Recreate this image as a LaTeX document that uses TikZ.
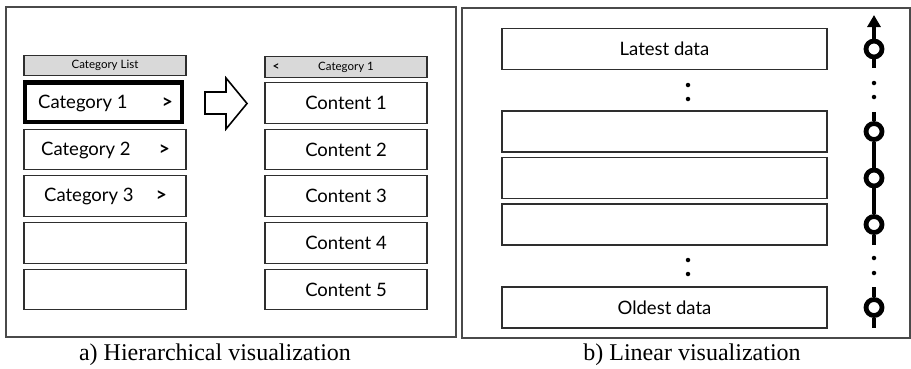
\documentclass[tikz,border=0pt]{standalone}
\usepackage{fontspec}
\setmainfont{Liberation Serif}
\newfontfamily\boxfont{Lato}
\usetikzlibrary{arrows.meta}
\definecolor{boxline}{HTML}{2E2E2E}
\definecolor{panelline}{HTML}{4A4A4A}
\definecolor{headfill}{HTML}{D9D9D9}
\tikzset{
  panel/.style={draw=panelline,line width=1.4pt},
  rowbox/.style={draw=boxline,line width=1.3pt,fill=white,minimum width=162pt,minimum height=40.5pt,inner sep=0pt,outer sep=0pt,font=\boxfont\fontsize{18.5}{21}\selectfont},
  selbox/.style={rowbox,draw=black,line width=4.8pt,minimum width=157pt,minimum height=39.5pt},
  headbox/.style={draw=boxline,line width=1.3pt,fill=headfill,minimum width=162pt,minimum height=20.5pt,inner sep=0pt,font=\boxfont\fontsize{11.5}{13}\selectfont},
  databox/.style={rowbox,minimum width=325pt,minimum height=41pt},
  lbl/.style={inner sep=0pt,font=\boxfont\fontsize{18.5}{21}\selectfont},
  glyph/.style={inner sep=0pt,font=\boxfont\bfseries\fontsize{19}{21}\selectfont},
  smalllbl/.style={inner sep=0pt,font=\boxfont\fontsize{11.5}{13}\selectfont},
  smallglyph/.style={inner sep=0pt,font=\boxfont\bfseries\fontsize{12}{13}\selectfont},
  tnode/.style={circle,draw=black,line width=4.8pt,fill=white,minimum size=16pt,inner sep=0pt},
  tline/.style={line width=4pt,draw=black},
  dotmark/.style={fill=black,circle,inner sep=0pt,minimum size=4.5pt},
  caption/.style={inner sep=0pt,font=\fontsize{24}{27}\selectfont},
}
\begin{document}
\begin{tikzpicture}[x=1pt,y=-1pt]
\useasboundingbox (0,0) rectangle (911,368);
% panels
\draw[panel] (6,7) rectangle (456,337);
\draw[panel] (462,8) rectangle (910,338);
% left column
\node[headbox] (lh) at (105,65.5) {Category List};
\node[selbox] (c1) at (103.5,102.25) {};
\node[rowbox] (c2) at (105,149.5) {};
\node[rowbox] (c3) at (105,196) {};
\node[rowbox] (c4) at (105,243) {};
\node[rowbox] (c5) at (105,289.5) {};
\node[lbl,anchor=west] (c1t) at (38,103) {Category 1};
\node[glyph] (c1g) at (167.5,103) {>};
\node[lbl,anchor=west] (c2t) at (41,150) {Category 2};
\node[glyph] (c2g) at (164.5,150) {>};
\node[lbl,anchor=west] (c3t) at (44,196.5) {Category 3};
\node[glyph] (c3g) at (161.5,196.5) {>};
% block arrow
\draw[line width=1.6pt,draw=black,fill=white] (205,92) -- (226,92) -- (226,78) -- (247,103.5) -- (226,129) -- (226,114) -- (205,114) -- cycle;
% right column
\node[headbox] (rh) at (346,67) {};
\node[smallglyph] (rhb) at (276,67) {<};
\node[smalllbl] (rht) at (346,67) {Category 1};
\node[rowbox] (k1) at (346,103) {Content 1};
\node[rowbox] (k2) at (346,149.5) {Content 2};
\node[rowbox] (k3) at (346,196) {Content 3};
\node[rowbox] (k4) at (346,243) {Content 4};
\node[rowbox] (k5) at (346,289.5) {Content 5};
% linear panel
\node[databox] (d1) at (664.5,49) {Latest data};
\node[databox] (d2) at (664.5,131.5) {};
\node[databox] (d3) at (664.5,178) {};
\node[databox] (d4) at (664.5,224.5) {};
\node[databox] (d5) at (664.5,307.5) {Oldest data};
\node[dotmark] (e1) at (688,85) {};
\node[dotmark] (e2) at (688,99) {};
\node[dotmark] (e3) at (688,260) {};
\node[dotmark] (e4) at (688,274) {};
% timeline
\coordinate (top) at (874,15);
\coordinate (s1e) at (874,68);
\coordinate (s2s) at (874,112);
\coordinate (s2e) at (874,245);
\coordinate (s3s) at (874,287);
\coordinate (s3e) at (874,328);
\node[tnode] (t1) at (874,49) {};
\node[tnode] (t2) at (874,131.5) {};
\node[tnode] (t3) at (874,178) {};
\node[tnode] (t4) at (874,224.5) {};
\node[tnode] (t5) at (874,307.5) {};
\draw[tline,-{Triangle[width=13pt,length=12pt]}] (t1) -- (top);
\draw[tline] (t1) -- (s1e);
\draw[tline] (s2s) -- (t2);
\draw[tline] (t2) -- (t3);
\draw[tline] (t3) -- (t4);
\draw[tline] (t4) -- (s2e);
\draw[tline] (s3s) -- (t5);
\draw[tline] (t5) -- (s3e);
\node[dotmark] (f1) at (874,83) {};
\node[dotmark] (f2) at (874,97) {};
\node[dotmark] (f3) at (874,258) {};
\node[dotmark] (f4) at (874,273) {};
% captions
\node[caption] (capa) at (215,355) {a) Hierarchical visualization};
\node[caption] (capb) at (692,355) {b) Linear visualization};
\end{tikzpicture}
\end{document}
